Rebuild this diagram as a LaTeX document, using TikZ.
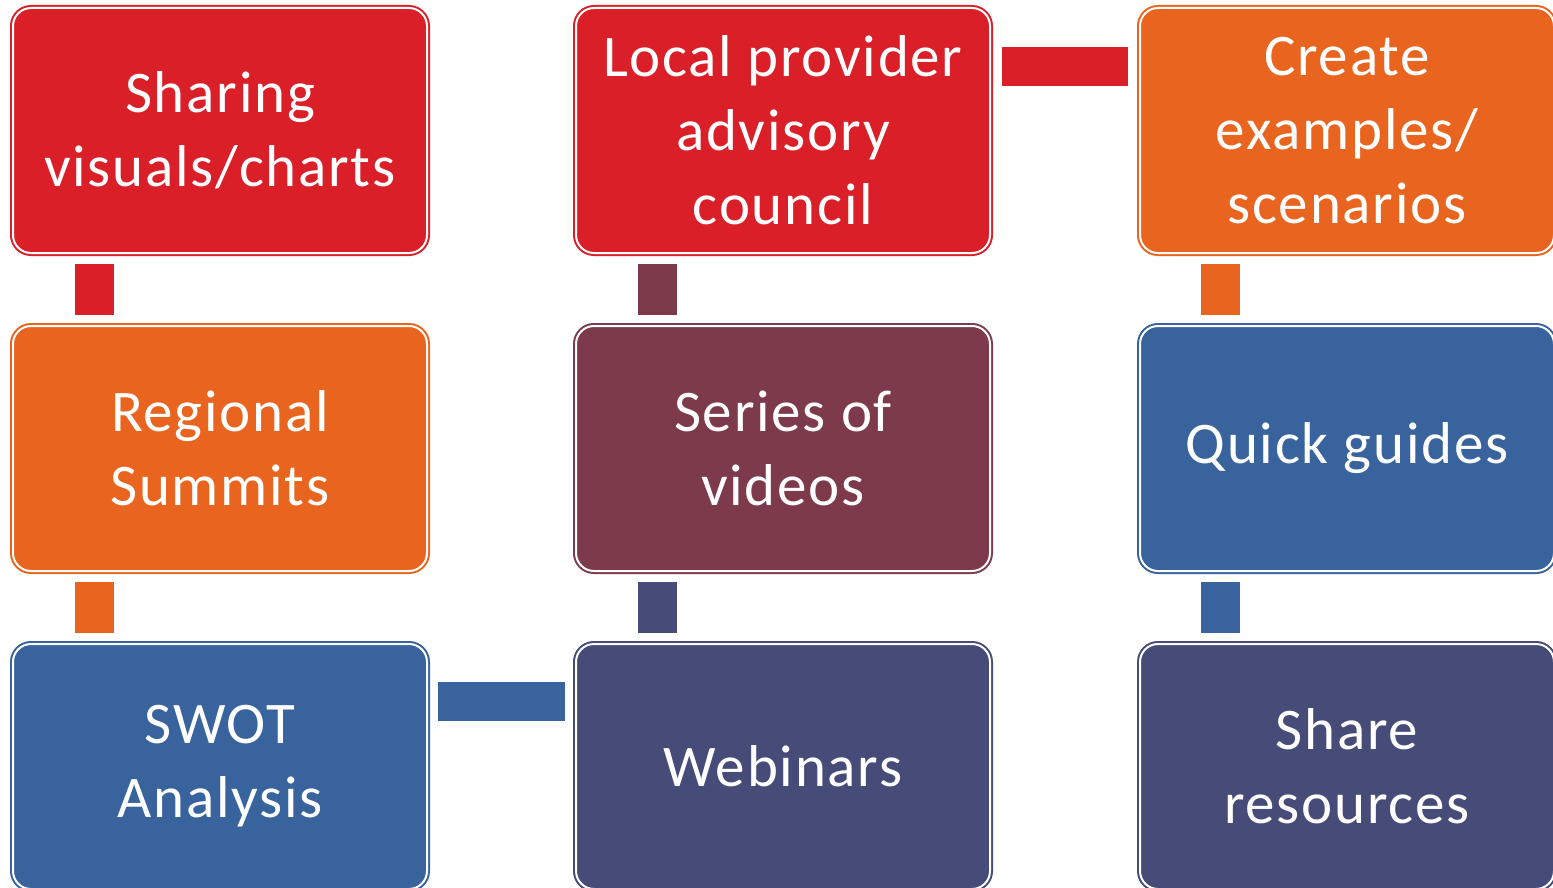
\documentclass[tikz,border=0pt]{standalone}
\usepackage{fontspec}
\setmainfont{Carlito}[LetterSpace=3]
\usetikzlibrary{calc}
\definecolor{cred}{HTML}{DA1F28}
\definecolor{corange}{HTML}{E9641E}
\definecolor{cmaroon}{HTML}{7D3A4A}
\definecolor{cblue}{HTML}{38639D}
\definecolor{cslate}{HTML}{464B78}
\begin{document}
\begin{tikzpicture}[x=1pt,y=-1pt,
  box/.style={rectangle, rounded corners=18pt, minimum width=414pt, minimum height=245pt,
    inner sep=0pt, line width=2pt, double distance=2pt, draw=#1, double=white, fill=#1,
    text=white, align=center, font=\fontsize{59}{74}\selectfont},
  bar/.style={draw=#1, line width=39pt}]
\useasboundingbox (0,0) rectangle (1553,888);
\node[box=cred]    (b11) at (220,130.5)  {Sharing\\visuals/charts};
\node[box=cred]    (b12) at (783,130.5)  {Local provider\\advisory\\council};
\node[box=corange] (b13) at (1347,130.5) {Create\\examples/\\scenarios};
\node[box=corange] (b21) at (220,448.5)  {Regional\\Summits};
\node[box=cmaroon] (b22) at (783,448.5)  {Series of\\videos};
\node[box=cblue]   (b23) at (1347,448.5) {Quick guides};
\node[box=cblue]   (b31) at (220,766.5)  {SWOT\\Analysis};
\node[box=cslate]  (b32) at (783,766.5)  {Webinars};
\node[box=cslate]  (b33) at (1347,766.5) {Share\\resources};
% vertical connectors
\draw[bar=cred]    ($(b11.south)+(-125.5,10)$) -- ($(b21.north)+(-125.5,-10)$);
\draw[bar=corange] ($(b21.south)+(-125.5,10)$) -- ($(b31.north)+(-125.5,-10)$);
\draw[bar=cmaroon] ($(b12.south)+(-125.5,10)$) -- ($(b22.north)+(-125.5,-10)$);
\draw[bar=cslate]  ($(b22.south)+(-125.5,10)$) -- ($(b32.north)+(-125.5,-10)$);
\draw[bar=corange] ($(b13.south)+(-126.5,10)$) -- ($(b23.north)+(-126.5,-10)$);
\draw[bar=cblue]   ($(b23.south)+(-126.5,10)$) -- ($(b33.north)+(-126.5,-10)$);
% horizontal connectors
\draw[bar=cred]  ($(b12.east)+(11,-64)$) -- ($(b13.west)+(-11,-64)$);
\draw[bar=cblue] ($(b31.east)+(10,-65)$) -- ($(b32.west)+(-10,-65)$);
\end{tikzpicture}
\end{document}
